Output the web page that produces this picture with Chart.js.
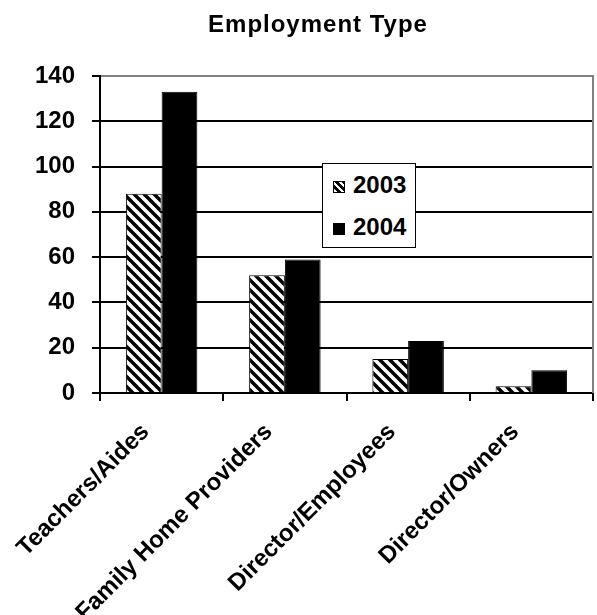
<!DOCTYPE html>
<html>
<head>
<meta charset="utf-8">
<script src="https://cdn.jsdelivr.net/npm/chart.js@4.4.0/dist/chart.umd.min.js"></script>
<style>
  body { margin: 0; background: #fff; }
  #wrap { position: relative; width: 597px; height: 615px; }
  #legend {
    position: absolute; left: 322px; top: 163px; width: 92px; height: 83px;
    border: 1.5px solid #000; background: #fff;
    font: bold 24px "Liberation Sans", Arial, sans-serif; color: #000;
  }
  #legend .row { position: absolute; left: 10px; height: 28px; line-height: 28px; white-space: nowrap; }
  #legend .sw { display: inline-block; width: 12px; height: 12px; margin-right: 8px; vertical-align: 0px; box-sizing: border-box; }
  #legend .hatch { border: 1.5px solid #000;
    background: repeating-linear-gradient(45deg, #fff 0 2.5px, #000 2.5px 5px); }
  #legend .solid { background: #000; }
</style>
</head>
<body>
<div id="wrap">
  <canvas id="chart"></canvas>
  <div id="legend">
    <div class="row" style="top:7px"><span class="sw hatch"></span>2003</div>
    <div class="row" style="top:49px"><span class="sw solid"></span>2004</div>
  </div>
</div>
<script>
// chart data
const categories = ['Teachers/Aides', 'Family Home Providers', 'Director/Employees', 'Director/Owners'];
const values2003 = [88, 52, 15, 3];
const values2004 = [133, 59, 23, 10];
const yTicks = [0, 20, 40, 60, 80, 100, 120, 140];
const titleText = 'Employment Type';

const FONT = '"Liberation Sans", Arial, sans-serif';

// diagonal hatch for the 2003 bars
function makeHatch() {
    const c = document.createElement('canvas');
    c.width = 10; c.height = 10;
    const g = c.getContext('2d');
    g.fillStyle = '#fff';
    g.fillRect(0, 0, 10, 10);
    g.strokeStyle = '#000';
    g.lineWidth = 3.5;
    g.beginPath();
    g.moveTo(-5, -5); g.lineTo(15, 15);
    g.moveTo(-5, 5); g.lineTo(5, 15);
    g.moveTo(5, -5); g.lineTo(15, 5);
    g.stroke();
    return g.createPattern(c, 'repeat');
}

// title (sits a little right of the page centre) and grey frame on the right
const frame = {
    id: 'frame',
    afterDatasetsDraw(chart) {
        const a = chart.chartArea, ctx = chart.ctx;
        ctx.save();
        ctx.strokeStyle = '#808080';
        ctx.lineWidth = 2;
        ctx.beginPath();
        ctx.moveTo(a.right, a.top - 1);
        ctx.lineTo(a.right, a.bottom);
        ctx.stroke();
        ctx.letterSpacing = '1px';
        ctx.fillStyle = '#000';
        ctx.font = 'bold 24px ' + FONT;
        ctx.textAlign = 'center';
        ctx.textBaseline = 'alphabetic';
        ctx.fillText(titleText, 318, 32);
        ctx.restore();
    }
};

const ctx = document.getElementById('chart').getContext('2d');
const chart = new Chart(ctx, {
    type: 'bar',
    data: {
        labels: categories,
        datasets: [
            { label: '2003', data: values2003, backgroundColor: makeHatch(), borderColor: '#000', borderWidth: 1 },
            { label: '2004', data: values2004, backgroundColor: '#000', borderColor: '#000', borderWidth: 1 }
        ]
    },
    options: {
        responsive: true,
        maintainAspectRatio: false,
        animation: false,
        datasets: { bar: { categoryPercentage: 0.58, barPercentage: 1.0 } },
        layout: { padding: { left: 0, right: 4, top: 76, bottom: 0 } },
        plugins: {
            legend: { display: false },
            tooltip: { enabled: false },
            title: { display: false }
        },
        scales: {
            x: {
                grid: { offset: true, drawOnChartArea: false, drawTicks: true, tickLength: 8, color: '#000', lineWidth: 2 },
                border: { display: true, color: '#000', width: 2 },
                ticks: {
                    color: '#000', autoSkip: false, maxRotation: 45, minRotation: 45, padding: 17, labelOffset: -16,
                    font: { family: FONT, size: 24, weight: 'bold' }
                },
                afterFit(scale) {
                    scale.height = 222;
                    scale.paddingLeft = 0;
                    scale.paddingRight = 0;
                }
            },
            y: {
                min: 0,
                max: 140,
                afterBuildTicks(scale) { scale.ticks = yTicks.map(v => ({ value: v })); },
                grid: {
                    color: c => (c.tick && c.tick.value === 140 ? '#808080' : '#000'),
                    tickColor: '#000',
                    lineWidth: 2,
                    tickLength: 8
                },
                border: { display: true, color: '#000', width: 2 },
                ticks: { color: '#000', padding: 17, font: { family: FONT, size: 24, weight: 'bold' } },
                afterFit(scale) { scale.width = 100; }
            }
        }
    },
    plugins: [frame]
});
</script>
</body>
</html>
